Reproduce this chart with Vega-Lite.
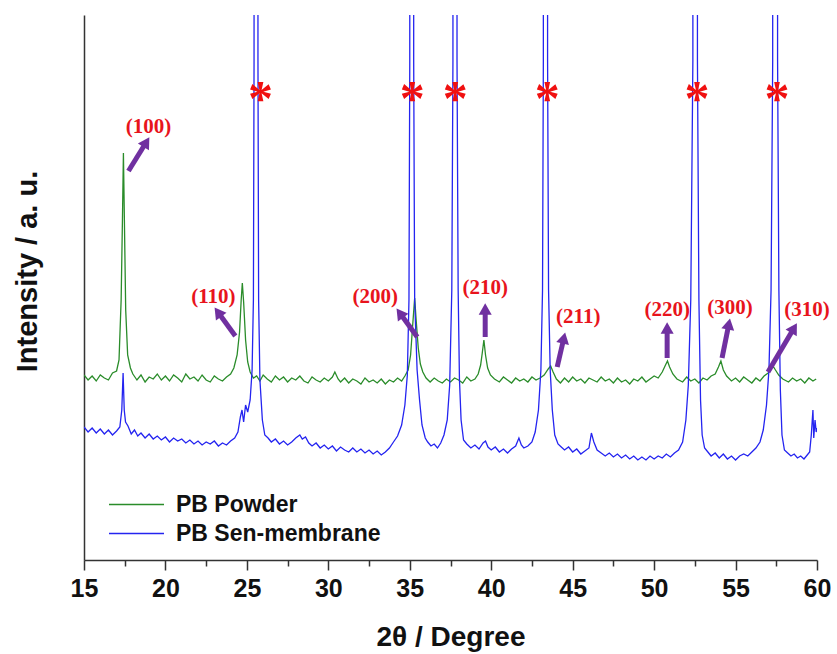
{
  "$schema": "https://vega.github.io/schema/vega-lite/v6.json",
  "width": 733,
  "height": 545,
  "autosize": "none",
  "padding": {"left": 84, "top": 15, "right": 20, "bottom": 94},
  "background": "white",
  "config": {
    "view": {"stroke": null},
    "axis": {"domainColor": "#333333", "tickColor": "#333333", "domainWidth": 1.5, "tickWidth": 1.5, "grid": false}
  },
  "datasets": {
    "spectra": [
      {"series":"PB Powder","theta":15.0,"intensity":185},{"series":"PB Powder","theta":15.25,"intensity":180},{"series":"PB Powder","theta":15.5,"intensity":184},{"series":"PB Powder","theta":15.75,"intensity":179},{"series":"PB Powder","theta":16.0,"intensity":185},{"series":"PB Powder","theta":16.25,"intensity":182},{"series":"PB Powder","theta":16.5,"intensity":180},{"series":"PB Powder","theta":16.75,"intensity":187},{"series":"PB Powder","theta":17.0,"intensity":189},{"series":"PB Powder","theta":17.15,"intensity":200},{"series":"PB Powder","theta":17.28,"intensity":260},{"series":"PB Powder","theta":17.36,"intensity":340},{"series":"PB Powder","theta":17.42,"intensity":407},{"series":"PB Powder","theta":17.48,"intensity":340},{"series":"PB Powder","theta":17.56,"intensity":250},{"series":"PB Powder","theta":17.68,"intensity":205},{"series":"PB Powder","theta":17.85,"intensity":192},{"series":"PB Powder","theta":18.0,"intensity":186},{"series":"PB Powder","theta":18.25,"intensity":180},{"series":"PB Powder","theta":18.5,"intensity":185},{"series":"PB Powder","theta":18.75,"intensity":178},{"series":"PB Powder","theta":19.0,"intensity":183},{"series":"PB Powder","theta":19.25,"intensity":181},{"series":"PB Powder","theta":19.5,"intensity":186},{"series":"PB Powder","theta":19.75,"intensity":180},{"series":"PB Powder","theta":20.0,"intensity":184},{"series":"PB Powder","theta":20.25,"intensity":179},{"series":"PB Powder","theta":20.5,"intensity":185},{"series":"PB Powder","theta":20.75,"intensity":182},{"series":"PB Powder","theta":21.0,"intensity":178},{"series":"PB Powder","theta":21.25,"intensity":186},{"series":"PB Powder","theta":21.5,"intensity":181},{"series":"PB Powder","theta":21.75,"intensity":183},{"series":"PB Powder","theta":22.0,"intensity":179},{"series":"PB Powder","theta":22.25,"intensity":185},{"series":"PB Powder","theta":22.5,"intensity":180},{"series":"PB Powder","theta":22.75,"intensity":178},{"series":"PB Powder","theta":23.0,"intensity":184},{"series":"PB Powder","theta":23.25,"intensity":181},{"series":"PB Powder","theta":23.5,"intensity":179},{"series":"PB Powder","theta":23.75,"intensity":183},{"series":"PB Powder","theta":24.0,"intensity":186},{"series":"PB Powder","theta":24.2,"intensity":192},{"series":"PB Powder","theta":24.4,"intensity":205},{"series":"PB Powder","theta":24.55,"intensity":228},{"series":"PB Powder","theta":24.65,"intensity":260},{"series":"PB Powder","theta":24.72,"intensity":277},{"series":"PB Powder","theta":24.8,"intensity":258},{"series":"PB Powder","theta":24.92,"intensity":220},{"series":"PB Powder","theta":25.05,"intensity":198},{"series":"PB Powder","theta":25.2,"intensity":188},{"series":"PB Powder","theta":25.4,"intensity":182},{"series":"PB Powder","theta":25.6,"intensity":184},{"series":"PB Powder","theta":25.8,"intensity":179},{"series":"PB Powder","theta":26.0,"intensity":185},{"series":"PB Powder","theta":26.25,"intensity":181},{"series":"PB Powder","theta":26.5,"intensity":178},{"series":"PB Powder","theta":26.75,"intensity":184},{"series":"PB Powder","theta":27.0,"intensity":180},{"series":"PB Powder","theta":27.25,"intensity":183},{"series":"PB Powder","theta":27.5,"intensity":178},{"series":"PB Powder","theta":27.75,"intensity":182},{"series":"PB Powder","theta":28.0,"intensity":180},{"series":"PB Powder","theta":28.25,"intensity":184},{"series":"PB Powder","theta":28.5,"intensity":179},{"series":"PB Powder","theta":28.75,"intensity":177},{"series":"PB Powder","theta":29.0,"intensity":183},{"series":"PB Powder","theta":29.25,"intensity":180},{"series":"PB Powder","theta":29.5,"intensity":178},{"series":"PB Powder","theta":29.75,"intensity":182},{"series":"PB Powder","theta":30.0,"intensity":179},{"series":"PB Powder","theta":30.25,"intensity":183},{"series":"PB Powder","theta":30.4,"intensity":188},{"series":"PB Powder","theta":30.6,"intensity":181},{"series":"PB Powder","theta":30.75,"intensity":178},{"series":"PB Powder","theta":31.0,"intensity":182},{"series":"PB Powder","theta":31.25,"intensity":177},{"series":"PB Powder","theta":31.5,"intensity":181},{"series":"PB Powder","theta":31.75,"intensity":179},{"series":"PB Powder","theta":32.0,"intensity":176},{"series":"PB Powder","theta":32.25,"intensity":182},{"series":"PB Powder","theta":32.5,"intensity":178},{"series":"PB Powder","theta":32.75,"intensity":180},{"series":"PB Powder","theta":33.0,"intensity":177},{"series":"PB Powder","theta":33.25,"intensity":181},{"series":"PB Powder","theta":33.5,"intensity":176},{"series":"PB Powder","theta":33.75,"intensity":180},{"series":"PB Powder","theta":34.0,"intensity":178},{"series":"PB Powder","theta":34.25,"intensity":182},{"series":"PB Powder","theta":34.5,"intensity":179},{"series":"PB Powder","theta":34.7,"intensity":184},{"series":"PB Powder","theta":34.9,"intensity":190},{"series":"PB Powder","theta":35.05,"intensity":205},{"series":"PB Powder","theta":35.18,"intensity":235},{"series":"PB Powder","theta":35.3,"intensity":262},{"series":"PB Powder","theta":35.4,"intensity":238},{"series":"PB Powder","theta":35.52,"intensity":212},{"series":"PB Powder","theta":35.65,"intensity":196},{"series":"PB Powder","theta":35.8,"intensity":188},{"series":"PB Powder","theta":36.0,"intensity":182},{"series":"PB Powder","theta":36.25,"intensity":178},{"series":"PB Powder","theta":36.5,"intensity":182},{"series":"PB Powder","theta":36.75,"intensity":179},{"series":"PB Powder","theta":37.0,"intensity":177},{"series":"PB Powder","theta":37.25,"intensity":181},{"series":"PB Powder","theta":37.5,"intensity":178},{"series":"PB Powder","theta":37.75,"intensity":182},{"series":"PB Powder","theta":38.0,"intensity":180},{"series":"PB Powder","theta":38.25,"intensity":177},{"series":"PB Powder","theta":38.5,"intensity":183},{"series":"PB Powder","theta":38.75,"intensity":179},{"series":"PB Powder","theta":39.0,"intensity":181},{"series":"PB Powder","theta":39.2,"intensity":186},{"series":"PB Powder","theta":39.35,"intensity":195},{"series":"PB Powder","theta":39.45,"intensity":207},{"series":"PB Powder","theta":39.55,"intensity":220},{"series":"PB Powder","theta":39.65,"intensity":205},{"series":"PB Powder","theta":39.78,"intensity":192},{"series":"PB Powder","theta":39.95,"intensity":185},{"series":"PB Powder","theta":40.2,"intensity":181},{"series":"PB Powder","theta":40.5,"intensity":178},{"series":"PB Powder","theta":40.75,"intensity":183},{"series":"PB Powder","theta":41.0,"intensity":180},{"series":"PB Powder","theta":41.25,"intensity":177},{"series":"PB Powder","theta":41.5,"intensity":182},{"series":"PB Powder","theta":41.75,"intensity":179},{"series":"PB Powder","theta":42.0,"intensity":181},{"series":"PB Powder","theta":42.25,"intensity":178},{"series":"PB Powder","theta":42.5,"intensity":183},{"series":"PB Powder","theta":42.75,"intensity":180},{"series":"PB Powder","theta":43.0,"intensity":182},{"series":"PB Powder","theta":43.25,"intensity":185},{"series":"PB Powder","theta":43.5,"intensity":191},{"series":"PB Powder","theta":43.65,"intensity":194},{"series":"PB Powder","theta":43.8,"intensity":188},{"series":"PB Powder","theta":44.0,"intensity":181},{"series":"PB Powder","theta":44.25,"intensity":177},{"series":"PB Powder","theta":44.5,"intensity":182},{"series":"PB Powder","theta":44.75,"intensity":178},{"series":"PB Powder","theta":45.0,"intensity":183},{"series":"PB Powder","theta":45.25,"intensity":179},{"series":"PB Powder","theta":45.5,"intensity":181},{"series":"PB Powder","theta":45.75,"intensity":177},{"series":"PB Powder","theta":46.0,"intensity":182},{"series":"PB Powder","theta":46.25,"intensity":180},{"series":"PB Powder","theta":46.5,"intensity":178},{"series":"PB Powder","theta":46.75,"intensity":183},{"series":"PB Powder","theta":47.0,"intensity":179},{"series":"PB Powder","theta":47.25,"intensity":181},{"series":"PB Powder","theta":47.5,"intensity":177},{"series":"PB Powder","theta":47.75,"intensity":182},{"series":"PB Powder","theta":48.0,"intensity":178},{"series":"PB Powder","theta":48.25,"intensity":180},{"series":"PB Powder","theta":48.5,"intensity":176},{"series":"PB Powder","theta":48.75,"intensity":181},{"series":"PB Powder","theta":49.0,"intensity":179},{"series":"PB Powder","theta":49.25,"intensity":183},{"series":"PB Powder","theta":49.5,"intensity":178},{"series":"PB Powder","theta":49.75,"intensity":181},{"series":"PB Powder","theta":50.0,"intensity":184},{"series":"PB Powder","theta":50.25,"intensity":182},{"series":"PB Powder","theta":50.5,"intensity":188},{"series":"PB Powder","theta":50.7,"intensity":195},{"series":"PB Powder","theta":50.82,"intensity":199},{"series":"PB Powder","theta":50.95,"intensity":193},{"series":"PB Powder","theta":51.15,"intensity":186},{"series":"PB Powder","theta":51.4,"intensity":181},{"series":"PB Powder","theta":51.75,"intensity":178},{"series":"PB Powder","theta":52.0,"intensity":183},{"series":"PB Powder","theta":52.25,"intensity":179},{"series":"PB Powder","theta":52.5,"intensity":181},{"series":"PB Powder","theta":52.75,"intensity":177},{"series":"PB Powder","theta":53.0,"intensity":182},{"series":"PB Powder","theta":53.25,"intensity":180},{"series":"PB Powder","theta":53.5,"intensity":184},{"series":"PB Powder","theta":53.75,"intensity":186},{"series":"PB Powder","theta":53.95,"intensity":193},{"series":"PB Powder","theta":54.1,"intensity":199},{"series":"PB Powder","theta":54.25,"intensity":190},{"series":"PB Powder","theta":54.45,"intensity":184},{"series":"PB Powder","theta":54.75,"intensity":179},{"series":"PB Powder","theta":55.0,"intensity":182},{"series":"PB Powder","theta":55.25,"intensity":178},{"series":"PB Powder","theta":55.5,"intensity":183},{"series":"PB Powder","theta":55.75,"intensity":180},{"series":"PB Powder","theta":56.0,"intensity":177},{"series":"PB Powder","theta":56.25,"intensity":182},{"series":"PB Powder","theta":56.5,"intensity":179},{"series":"PB Powder","theta":56.75,"intensity":184},{"series":"PB Powder","theta":57.0,"intensity":187},{"series":"PB Powder","theta":57.15,"intensity":191},{"series":"PB Powder","theta":57.3,"intensity":194},{"series":"PB Powder","theta":57.45,"intensity":190},{"series":"PB Powder","theta":57.65,"intensity":185},{"series":"PB Powder","theta":57.9,"intensity":181},{"series":"PB Powder","theta":58.25,"intensity":178},{"series":"PB Powder","theta":58.5,"intensity":182},{"series":"PB Powder","theta":58.75,"intensity":179},{"series":"PB Powder","theta":59.0,"intensity":181},{"series":"PB Powder","theta":59.25,"intensity":177},{"series":"PB Powder","theta":59.5,"intensity":182},{"series":"PB Powder","theta":59.75,"intensity":179},{"series":"PB Powder","theta":59.95,"intensity":181},
      {"series":"PB Sen-membrane","theta":15.0,"intensity":133},{"series":"PB Sen-membrane","theta":15.25,"intensity":128},{"series":"PB Sen-membrane","theta":15.5,"intensity":132},{"series":"PB Sen-membrane","theta":15.75,"intensity":127},{"series":"PB Sen-membrane","theta":16.0,"intensity":131},{"series":"PB Sen-membrane","theta":16.25,"intensity":126},{"series":"PB Sen-membrane","theta":16.5,"intensity":130},{"series":"PB Sen-membrane","theta":16.75,"intensity":125},{"series":"PB Sen-membrane","theta":17.0,"intensity":129},{"series":"PB Sen-membrane","theta":17.2,"intensity":133},{"series":"PB Sen-membrane","theta":17.32,"intensity":150},{"series":"PB Sen-membrane","theta":17.4,"intensity":187},{"series":"PB Sen-membrane","theta":17.47,"intensity":150},{"series":"PB Sen-membrane","theta":17.55,"intensity":138},{"series":"PB Sen-membrane","theta":17.7,"intensity":134},{"series":"PB Sen-membrane","theta":17.9,"intensity":126},{"series":"PB Sen-membrane","theta":18.1,"intensity":130},{"series":"PB Sen-membrane","theta":18.3,"intensity":124},{"series":"PB Sen-membrane","theta":18.5,"intensity":127},{"series":"PB Sen-membrane","theta":18.75,"intensity":122},{"series":"PB Sen-membrane","theta":19.0,"intensity":126},{"series":"PB Sen-membrane","theta":19.25,"intensity":121},{"series":"PB Sen-membrane","theta":19.5,"intensity":124},{"series":"PB Sen-membrane","theta":19.75,"intensity":120},{"series":"PB Sen-membrane","theta":20.0,"intensity":123},{"series":"PB Sen-membrane","theta":20.25,"intensity":118},{"series":"PB Sen-membrane","theta":20.5,"intensity":122},{"series":"PB Sen-membrane","theta":20.75,"intensity":119},{"series":"PB Sen-membrane","theta":21.0,"intensity":121},{"series":"PB Sen-membrane","theta":21.25,"intensity":117},{"series":"PB Sen-membrane","theta":21.5,"intensity":120},{"series":"PB Sen-membrane","theta":21.75,"intensity":116},{"series":"PB Sen-membrane","theta":22.0,"intensity":119},{"series":"PB Sen-membrane","theta":22.25,"intensity":115},{"series":"PB Sen-membrane","theta":22.5,"intensity":118},{"series":"PB Sen-membrane","theta":22.75,"intensity":116},{"series":"PB Sen-membrane","theta":23.0,"intensity":119},{"series":"PB Sen-membrane","theta":23.25,"intensity":114},{"series":"PB Sen-membrane","theta":23.5,"intensity":117},{"series":"PB Sen-membrane","theta":23.75,"intensity":115},{"series":"PB Sen-membrane","theta":24.0,"intensity":119},{"series":"PB Sen-membrane","theta":24.25,"intensity":122},{"series":"PB Sen-membrane","theta":24.45,"intensity":128},{"series":"PB Sen-membrane","theta":24.6,"intensity":143},{"series":"PB Sen-membrane","theta":24.7,"intensity":150},{"series":"PB Sen-membrane","theta":24.8,"intensity":138},{"series":"PB Sen-membrane","theta":24.92,"intensity":155},{"series":"PB Sen-membrane","theta":25.05,"intensity":148},{"series":"PB Sen-membrane","theta":25.2,"intensity":160},{"series":"PB Sen-membrane","theta":25.32,"intensity":190},{"series":"PB Sen-membrane","theta":25.4,"intensity":260},{"series":"PB Sen-membrane","theta":25.44,"intensity":500},{"series":"PB Sen-membrane","theta":25.56,"intensity":20000},{"series":"PB Sen-membrane","theta":25.68,"intensity":500},{"series":"PB Sen-membrane","theta":25.72,"intensity":260},{"series":"PB Sen-membrane","theta":25.8,"intensity":180},{"series":"PB Sen-membrane","theta":25.95,"intensity":140},{"series":"PB Sen-membrane","theta":26.1,"intensity":125},{"series":"PB Sen-membrane","theta":26.3,"intensity":122},{"series":"PB Sen-membrane","theta":26.5,"intensity":118},{"series":"PB Sen-membrane","theta":26.75,"intensity":121},{"series":"PB Sen-membrane","theta":27.0,"intensity":116},{"series":"PB Sen-membrane","theta":27.25,"intensity":119},{"series":"PB Sen-membrane","theta":27.5,"intensity":115},{"series":"PB Sen-membrane","theta":27.75,"intensity":118},{"series":"PB Sen-membrane","theta":28.0,"intensity":122},{"series":"PB Sen-membrane","theta":28.25,"intensity":125},{"series":"PB Sen-membrane","theta":28.4,"intensity":121},{"series":"PB Sen-membrane","theta":28.6,"intensity":123},{"series":"PB Sen-membrane","theta":28.8,"intensity":117},{"series":"PB Sen-membrane","theta":29.0,"intensity":114},{"series":"PB Sen-membrane","theta":29.25,"intensity":117},{"series":"PB Sen-membrane","theta":29.5,"intensity":112},{"series":"PB Sen-membrane","theta":29.75,"intensity":115},{"series":"PB Sen-membrane","theta":30.0,"intensity":111},{"series":"PB Sen-membrane","theta":30.25,"intensity":114},{"series":"PB Sen-membrane","theta":30.5,"intensity":109},{"series":"PB Sen-membrane","theta":30.75,"intensity":113},{"series":"PB Sen-membrane","theta":31.0,"intensity":110},{"series":"PB Sen-membrane","theta":31.25,"intensity":108},{"series":"PB Sen-membrane","theta":31.5,"intensity":112},{"series":"PB Sen-membrane","theta":31.75,"intensity":108},{"series":"PB Sen-membrane","theta":32.0,"intensity":111},{"series":"PB Sen-membrane","theta":32.25,"intensity":107},{"series":"PB Sen-membrane","theta":32.5,"intensity":110},{"series":"PB Sen-membrane","theta":32.75,"intensity":106},{"series":"PB Sen-membrane","theta":33.0,"intensity":109},{"series":"PB Sen-membrane","theta":33.25,"intensity":105},{"series":"PB Sen-membrane","theta":33.5,"intensity":108},{"series":"PB Sen-membrane","theta":33.75,"intensity":112},{"series":"PB Sen-membrane","theta":34.0,"intensity":118},{"series":"PB Sen-membrane","theta":34.25,"intensity":124},{"series":"PB Sen-membrane","theta":34.5,"intensity":135},{"series":"PB Sen-membrane","theta":34.7,"intensity":155},{"series":"PB Sen-membrane","theta":34.85,"intensity":185},{"series":"PB Sen-membrane","theta":34.95,"intensity":260},{"series":"PB Sen-membrane","theta":35.0,"intensity":500},{"series":"PB Sen-membrane","theta":35.12,"intensity":20000},{"series":"PB Sen-membrane","theta":35.24,"intensity":500},{"series":"PB Sen-membrane","theta":35.3,"intensity":260},{"series":"PB Sen-membrane","theta":35.45,"intensity":190},{"series":"PB Sen-membrane","theta":35.6,"intensity":160},{"series":"PB Sen-membrane","theta":35.75,"intensity":135},{"series":"PB Sen-membrane","theta":35.95,"intensity":122},{"series":"PB Sen-membrane","theta":36.1,"intensity":118},{"series":"PB Sen-membrane","theta":36.3,"intensity":114},{"series":"PB Sen-membrane","theta":36.5,"intensity":116},{"series":"PB Sen-membrane","theta":36.7,"intensity":112},{"series":"PB Sen-membrane","theta":36.9,"intensity":117},{"series":"PB Sen-membrane","theta":37.1,"intensity":125},{"series":"PB Sen-membrane","theta":37.3,"intensity":140},{"series":"PB Sen-membrane","theta":37.45,"intensity":175},{"series":"PB Sen-membrane","theta":37.58,"intensity":270},{"series":"PB Sen-membrane","theta":37.65,"intensity":500},{"series":"PB Sen-membrane","theta":37.78,"intensity":20000},{"series":"PB Sen-membrane","theta":37.9,"intensity":500},{"series":"PB Sen-membrane","theta":37.97,"intensity":270},{"series":"PB Sen-membrane","theta":38.05,"intensity":180},{"series":"PB Sen-membrane","theta":38.15,"intensity":140},{"series":"PB Sen-membrane","theta":38.3,"intensity":120},{"series":"PB Sen-membrane","theta":38.5,"intensity":116},{"series":"PB Sen-membrane","theta":38.75,"intensity":112},{"series":"PB Sen-membrane","theta":39.0,"intensity":115},{"series":"PB Sen-membrane","theta":39.25,"intensity":111},{"series":"PB Sen-membrane","theta":39.5,"intensity":117},{"series":"PB Sen-membrane","theta":39.65,"intensity":119},{"series":"PB Sen-membrane","theta":39.8,"intensity":113},{"series":"PB Sen-membrane","theta":40.0,"intensity":110},{"series":"PB Sen-membrane","theta":40.25,"intensity":113},{"series":"PB Sen-membrane","theta":40.5,"intensity":108},{"series":"PB Sen-membrane","theta":40.75,"intensity":111},{"series":"PB Sen-membrane","theta":41.0,"intensity":107},{"series":"PB Sen-membrane","theta":41.25,"intensity":111},{"series":"PB Sen-membrane","theta":41.5,"intensity":114},{"series":"PB Sen-membrane","theta":41.7,"intensity":122},{"series":"PB Sen-membrane","theta":41.85,"intensity":115},{"series":"PB Sen-membrane","theta":42.0,"intensity":112},{"series":"PB Sen-membrane","theta":42.25,"intensity":114},{"series":"PB Sen-membrane","theta":42.5,"intensity":118},{"series":"PB Sen-membrane","theta":42.7,"intensity":128},{"series":"PB Sen-membrane","theta":42.9,"intensity":150},{"series":"PB Sen-membrane","theta":43.05,"intensity":190},{"series":"PB Sen-membrane","theta":43.15,"intensity":270},{"series":"PB Sen-membrane","theta":43.2,"intensity":500},{"series":"PB Sen-membrane","theta":43.33,"intensity":20000},{"series":"PB Sen-membrane","theta":43.46,"intensity":500},{"series":"PB Sen-membrane","theta":43.52,"intensity":270},{"series":"PB Sen-membrane","theta":43.62,"intensity":190},{"series":"PB Sen-membrane","theta":43.75,"intensity":150},{"series":"PB Sen-membrane","theta":43.9,"intensity":125},{"series":"PB Sen-membrane","theta":44.1,"intensity":116},{"series":"PB Sen-membrane","theta":44.3,"intensity":113},{"series":"PB Sen-membrane","theta":44.5,"intensity":110},{"series":"PB Sen-membrane","theta":44.75,"intensity":113},{"series":"PB Sen-membrane","theta":45.0,"intensity":108},{"series":"PB Sen-membrane","theta":45.25,"intensity":111},{"series":"PB Sen-membrane","theta":45.5,"intensity":106},{"series":"PB Sen-membrane","theta":45.75,"intensity":109},{"series":"PB Sen-membrane","theta":46.0,"intensity":112},{"series":"PB Sen-membrane","theta":46.15,"intensity":127},{"series":"PB Sen-membrane","theta":46.3,"intensity":118},{"series":"PB Sen-membrane","theta":46.5,"intensity":110},{"series":"PB Sen-membrane","theta":46.75,"intensity":107},{"series":"PB Sen-membrane","theta":47.0,"intensity":104},{"series":"PB Sen-membrane","theta":47.25,"intensity":107},{"series":"PB Sen-membrane","theta":47.5,"intensity":103},{"series":"PB Sen-membrane","theta":47.75,"intensity":106},{"series":"PB Sen-membrane","theta":48.0,"intensity":102},{"series":"PB Sen-membrane","theta":48.25,"intensity":105},{"series":"PB Sen-membrane","theta":48.5,"intensity":101},{"series":"PB Sen-membrane","theta":48.75,"intensity":104},{"series":"PB Sen-membrane","theta":49.0,"intensity":100},{"series":"PB Sen-membrane","theta":49.25,"intensity":103},{"series":"PB Sen-membrane","theta":49.5,"intensity":100},{"series":"PB Sen-membrane","theta":49.75,"intensity":104},{"series":"PB Sen-membrane","theta":50.0,"intensity":101},{"series":"PB Sen-membrane","theta":50.25,"intensity":104},{"series":"PB Sen-membrane","theta":50.5,"intensity":102},{"series":"PB Sen-membrane","theta":50.75,"intensity":106},{"series":"PB Sen-membrane","theta":51.0,"intensity":103},{"series":"PB Sen-membrane","theta":51.25,"intensity":107},{"series":"PB Sen-membrane","theta":51.5,"intensity":110},{"series":"PB Sen-membrane","theta":51.75,"intensity":118},{"series":"PB Sen-membrane","theta":51.95,"intensity":140},{"series":"PB Sen-membrane","theta":52.1,"intensity":175},{"series":"PB Sen-membrane","theta":52.25,"intensity":260},{"series":"PB Sen-membrane","theta":52.38,"intensity":500},{"series":"PB Sen-membrane","theta":52.52,"intensity":20000},{"series":"PB Sen-membrane","theta":52.66,"intensity":500},{"series":"PB Sen-membrane","theta":52.75,"intensity":260},{"series":"PB Sen-membrane","theta":52.85,"intensity":160},{"series":"PB Sen-membrane","theta":52.95,"intensity":125},{"series":"PB Sen-membrane","theta":53.1,"intensity":112},{"series":"PB Sen-membrane","theta":53.3,"intensity":108},{"series":"PB Sen-membrane","theta":53.5,"intensity":104},{"series":"PB Sen-membrane","theta":53.75,"intensity":107},{"series":"PB Sen-membrane","theta":54.0,"intensity":102},{"series":"PB Sen-membrane","theta":54.25,"intensity":106},{"series":"PB Sen-membrane","theta":54.5,"intensity":101},{"series":"PB Sen-membrane","theta":54.75,"intensity":104},{"series":"PB Sen-membrane","theta":55.0,"intensity":100},{"series":"PB Sen-membrane","theta":55.25,"intensity":104},{"series":"PB Sen-membrane","theta":55.5,"intensity":106},{"series":"PB Sen-membrane","theta":55.75,"intensity":104},{"series":"PB Sen-membrane","theta":56.0,"intensity":108},{"series":"PB Sen-membrane","theta":56.25,"intensity":112},{"series":"PB Sen-membrane","theta":56.5,"intensity":118},{"series":"PB Sen-membrane","theta":56.7,"intensity":130},{"series":"PB Sen-membrane","theta":56.9,"intensity":155},{"series":"PB Sen-membrane","theta":57.05,"intensity":190},{"series":"PB Sen-membrane","theta":57.18,"intensity":270},{"series":"PB Sen-membrane","theta":57.28,"intensity":500},{"series":"PB Sen-membrane","theta":57.43,"intensity":20000},{"series":"PB Sen-membrane","theta":57.58,"intensity":500},{"series":"PB Sen-membrane","theta":57.66,"intensity":270},{"series":"PB Sen-membrane","theta":57.75,"intensity":170},{"series":"PB Sen-membrane","theta":57.85,"intensity":125},{"series":"PB Sen-membrane","theta":58.0,"intensity":110},{"series":"PB Sen-membrane","theta":58.2,"intensity":107},{"series":"PB Sen-membrane","theta":58.4,"intensity":104},{"series":"PB Sen-membrane","theta":58.6,"intensity":106},{"series":"PB Sen-membrane","theta":58.8,"intensity":102},{"series":"PB Sen-membrane","theta":59.0,"intensity":104},{"series":"PB Sen-membrane","theta":59.2,"intensity":101},{"series":"PB Sen-membrane","theta":59.4,"intensity":105},{"series":"PB Sen-membrane","theta":59.55,"intensity":108},{"series":"PB Sen-membrane","theta":59.65,"intensity":125},{"series":"PB Sen-membrane","theta":59.75,"intensity":150},{"series":"PB Sen-membrane","theta":59.8,"intensity":122},{"series":"PB Sen-membrane","theta":59.88,"intensity":140},{"series":"PB Sen-membrane","theta":59.95,"intensity":128},{"series":"PB Sen-membrane","theta":60.0,"intensity":132}
    ],
    "arrows": [
      {"label":"(100)","tailX":17.73,"tailY":389,"headX":18.83,"headY":418},
      {"label":"(110)","tailX":24.29,"tailY":224,"headX":23.22,"headY":248},
      {"label":"(200)","tailX":35.46,"tailY":223,"headX":34.39,"headY":247},
      {"label":"(210)","tailX":39.63,"tailY":223,"headX":39.63,"headY":251},
      {"label":"(211)","tailX":44.05,"tailY":193,"headX":44.46,"headY":222},
      {"label":"(220)","tailX":50.8,"tailY":202,"headX":50.8,"headY":232},
      {"label":"(300)","tailX":54.17,"tailY":202,"headX":54.59,"headY":236},
      {"label":"(310)","tailX":56.99,"tailY":188,"headX":58.59,"headY":232}
    ],
    "labels": [
      {"label":"(100)","theta":18.96,"intensity":433},
      {"label":"(110)","theta":22.94,"intensity":263},
      {"label":"(200)","theta":32.88,"intensity":263},
      {"label":"(210)","theta":39.63,"intensity":272},
      {"label":"(211)","theta":45.34,"intensity":243},
      {"label":"(220)","theta":50.8,"intensity":250},
      {"label":"(300)","theta":54.66,"intensity":252},
      {"label":"(310)","theta":59.39,"intensity":250}
    ],
    "stars": [
      {"theta":25.83,"intensity":468},
      {"theta":35.15,"intensity":468},
      {"theta":37.79,"intensity":468},
      {"theta":43.44,"intensity":468},
      {"theta":52.64,"intensity":468},
      {"theta":57.55,"intensity":468}
    ]
  },
  "layer": [
    {
      "data": {"name": "spectra"},
      "mark": {"type": "line", "clip": true, "strokeWidth": 1.3},
      "encoding": {
        "x": {"field": "theta", "type": "quantitative",
          "scale": {"domain": [15, 60], "nice": false, "zero": false},
          "axis": {"orient": "bottom", "values": [15,17.5,20,22.5,25,27.5,30,32.5,35,37.5,40,42.5,45,47.5,50,52.5,55,57.5,60],
            "tickSize": {"condition": {"test": "datum.value % 5 !== 0", "value": 6}, "value": 10},
            "labelExpr": "datum.value % 5 === 0 ? datum.label : ''",
            "labelFont": "Liberation Sans, Arial", "labelFontWeight": "bold", "labelFontSize": 25, "labelColor": "#111111", "labelPadding": 6, "labelFlush": false, "labelOverlap": false,
            "title": "2θ / Degree", "titleFont": "Liberation Sans, Arial", "titleFontWeight": "bold", "titleFontSize": 28, "titleColor": "#111111", "titlePadding": 22}},
        "y": {"field": "intensity", "type": "quantitative",
          "scale": {"domain": [0, 545], "nice": false, "zero": false},
          "axis": {"orient": "left", "ticks": false, "labels": false, "title": "Intensity / a. u.", "titleFont": "Liberation Sans, Arial", "titleFontWeight": "bold", "titleFontSize": 29, "titleColor": "#111111", "titleAngle": 270, "titleAlign": "center", "titleBaseline": "middle", "titleX": -57, "titleY": 256}},
        "color": {"field": "series", "type": "nominal",
          "scale": {"domain": ["PB Powder", "PB Sen-membrane"], "range": ["#2a8c2a", "#2424f0"]},
          "legend": {"title": null, "orient": "none", "legendX": 41, "legendY": 478, "symbolType": "M-2.75,0H2.75", "symbolSize": 400, "symbolStrokeWidth": 1.5, "symbolFillColor": "transparent", "labelFont": "Liberation Sans, Arial", "labelFontWeight": "bold", "labelFontSize": 23, "labelColor": "#111111", "labelOffset": 28, "labelLimit": 400, "rowPadding": 5}}
      }
    },
    {
      "data": {"name": "arrows"},
      "mark": {"type": "rule", "color": "#7030a0", "strokeWidth": 5},
      "encoding": {
        "x": {"field": "tailX", "type": "quantitative"},
        "y": {"field": "tailY", "type": "quantitative"},
        "x2": {"field": "headX"},
        "y2": {"field": "headY"}
      }
    },
    {
      "data": {"name": "arrows"},
      "transform": [{"calculate": "atan2((datum.headX - datum.tailX) * 16.29, (datum.headY - datum.tailY)) * 180 / PI", "as": "ang"}],
      "mark": {"type": "point", "shape": "triangle-up", "filled": true, "color": "#7030a0", "opacity": 1, "size": 170},
      "encoding": {
        "x": {"field": "headX", "type": "quantitative"},
        "y": {"field": "headY", "type": "quantitative"},
        "angle": {"field": "ang", "type": "quantitative", "scale": null}
      }
    },
    {
      "data": {"name": "labels"},
      "mark": {"type": "text", "font": "Liberation Serif, Times New Roman", "fontWeight": "bold", "fontSize": 21, "color": "#e8141c", "align": "center", "baseline": "middle"},
      "encoding": {
        "x": {"field": "theta", "type": "quantitative"},
        "y": {"field": "intensity", "type": "quantitative"},
        "text": {"field": "label"}
      }
    },
    {
      "data": {"name": "stars"},
      "mark": {"type": "text", "text": "*", "font": "Liberation Serif, Times New Roman", "fontWeight": "bold", "fontSize": 50, "color": "#f01010", "align": "center", "baseline": "middle", "dy": 8},
      "encoding": {
        "x": {"field": "theta", "type": "quantitative"},
        "y": {"field": "intensity", "type": "quantitative"}
      }
    }
  ]
}
